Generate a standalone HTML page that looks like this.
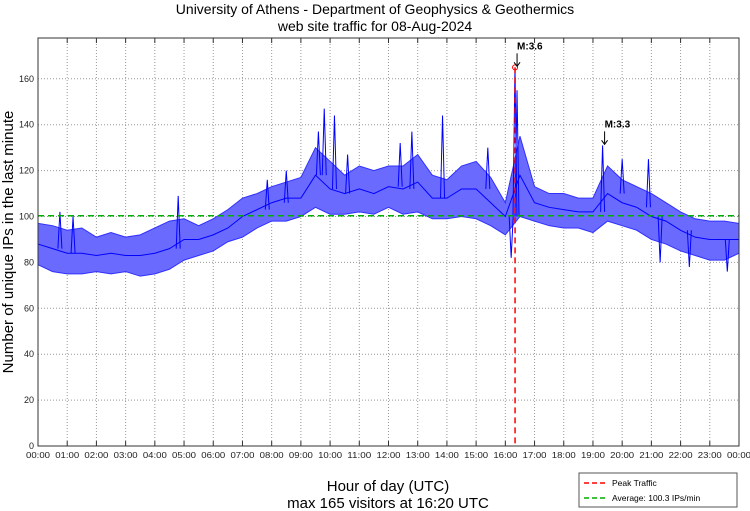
<!DOCTYPE html>
<html><head><meta charset="utf-8"><style>
body{margin:0;background:#fff;}
svg{display:block;font-family:"Liberation Sans",sans-serif;}
</style></head><body>
<svg id="chart" width="750" height="511" viewBox="0 0 750 511"></svg>
<script>
const hours=[0,0.5,1,1.5,2,2.5,3,3.5,4,4.5,5,5.5,6,6.5,7,7.5,8,8.5,9,9.5,10,10.5,11,11.5,12,12.5,13,13.5,14,14.5,15,15.5,16,16.5,17,17.5,18,18.5,19,19.5,20,20.5,21,21.5,22,22.5,23,23.5,24];
const lowVals=[79,76,75,75,76,75,76,74,75,77,81,83,85,89,91,95,98,98,100,104,101,101,102,101,104,101,102,99,99,100,99,96,92,100,98,96,95,95,93,98,96,94,90,88,85,83,81,81,84];
const highVals=[97,96,94,95,91,93,91,92,95,98,99,96,99,103,108,110,113,115,117,130,124,118,122,120,122,122,127,118,116,122,124,117,106,135,113,110,110,108,108,122,116,113,110,106,102,99,98,98,97];
const midVals=[88,86,84,84,83,84,83,83,84,86,90,90,92,95,100,103,106,108,108,118,112,110,112,110,113,112,115,108,108,112,112,106,100,118,106,104,103,102,102,110,106,104,100,98,94,91,90,90,90];
const spikeTimes=[0.75,1.2,4.8,7.85,8.5,9.6,9.8,10.15,10.6,12.4,12.8,13.85,15.4,16.2,16.33,16.4,19.33,20.0,20.9,21.3,22.3,23.6];
const spikeVals=[102,100,109,116,120,137,147,144,127,132,137,144,130,82,165,155,131,125,125,80,78,76];
const yTicks=[0,20,40,60,80,100,120,140,160];
const xTickLabels=["00:00","01:00","02:00","03:00","04:00","05:00","06:00","07:00","08:00","09:00","10:00","11:00","12:00","13:00","14:00","15:00","16:00","17:00","18:00","19:00","20:00","21:00","22:00","23:00","00:00"];
const avgVal=100.3, peakHour=16.333, peakVal=165;
const markers=[{t:16.333,v:165,label:"M:3.6"},{t:19.33,v:131,label:"M:3.3"}];

const L=38,R=739,T=38,B=446;
const X=h=>L+h/24*(R-L);
const Y=v=>B-v*2.295;
const svg=document.getElementById('chart');
const NS='http://www.w3.org/2000/svg';
function mk(tag,attrs,parent){const e=document.createElementNS(NS,tag);for(const k in attrs)e.setAttribute(k,attrs[k]);(parent||svg).appendChild(e);return e;}

yTicks.forEach(v=>{if(v>0){const g=mk('line',{x1:L,x2:R,y1:Y(v),y2:Y(v),stroke:'#999','stroke-dasharray':'1,2','stroke-width':1});

}
const t=mk('text',{x:L-4,y:Y(v)+3,'text-anchor':'end','font-size':9,fill:'#222'});t.textContent=v;

});
xTickLabels.forEach((s,i)=>{if(i>0&&i<24){const g=mk('line',{x1:X(i),x2:X(i),y1:T,y2:B,stroke:'#999','stroke-dasharray':'1,2','stroke-width':1});

}
mk('line',{x1:X(i),x2:X(i),y1:B,y2:B-5,stroke:'#333'});
mk('line',{x1:X(i),x2:X(i),y1:T,y2:T+5,stroke:'#333'});
const t=mk('text',{x:X(i),y:458,'text-anchor':'middle','font-size':8.5,fill:'#222',textLength:24,lengthAdjust:'spacingAndGlyphs'});t.textContent=s;

});

let d='';hours.forEach((h,i)=>{d+=(i?'L':'M')+X(h)+','+Y(highVals[i]);});
for(let i=hours.length-1;i>=0;i--)d+='L'+X(hours[i])+','+Y(lowVals[i]);
const band=mk('path',{d:d+'Z',fill:'#6a6aff',stroke:'#3030ff','stroke-width':1});


let m='';hours.forEach((h,i)=>{m+=(i?'L':'M')+X(h)+','+Y(midVals[i]);});
const mid=mk('path',{d:m,fill:'none',stroke:'#0000ff','stroke-width':1});


spikeTimes.forEach((t,i)=>{let j=0;while(j<hours.length-1&&hours[j+1]<t)j++;
const base=midVals[j];
const s=mk('polyline',{points:`${X(t)-2},${Y(base)} ${X(t)},${Y(spikeVals[i])} ${X(t)+2},${Y(base)}`,fill:'none',stroke:'#0000ff','stroke-width':1});

});

const avg=mk('line',{x1:L,x2:R,y1:Y(avgVal),y2:Y(avgVal),stroke:'#00b000','stroke-width':1.5,'stroke-dasharray':'6,4'});


const pk=mk('line',{x1:X(peakHour),x2:X(peakHour),y1:Y(peakVal),y2:B,stroke:'#ff0000','stroke-width':1.5,'stroke-dasharray':'6,4'});


const pc=mk('circle',{cx:X(peakHour),cy:Y(peakVal),r:2.5,fill:'none',stroke:'#ff0000','stroke-width':1});


markers.forEach(mm=>{const x=X(mm.t),y=Y(mm.v);
mk('line',{x1:x+2,x2:x+2,y1:y-14,y2:y-2,stroke:'#000'});
mk('polyline',{points:`${x-1},${y-5} ${x+2},${y-1} ${x+5},${y-5}`,fill:'none',stroke:'#000'});
const t=mk('text',{x:x+2,y:y-18,'font-size':10,'font-weight':'bold'});t.textContent=mm.label;

});

const fr=mk('rect',{x:L,y:T,width:R-L,height:B-T,fill:'none',stroke:'#333','stroke-width':1});



function txt(x,y,s,size,name,extra){const t=mk('text',Object.assign({x:x,y:y,'text-anchor':'middle','font-size':size,fill:'#000'},extra||{}));t.textContent=s;

return t;}
txt(375,14,'University of Athens - Department of Geophysics & Geothermics',14,'chart-title');
txt(375,31,'web site traffic for 08-Aug-2024',14,'chart-subtitle');
txt(388,491,'Hour of day (UTC)',15,'x-axis-title');
txt(388,508,'max 165 visitors at 16:20 UTC',15,'x-axis-subtitle');
txt(0,0,'Number of unique IPs in the last minute',15,'y-axis-title',{transform:'translate(13,242) rotate(-90)'});

const lg=mk('g',{});


mk('rect',{x:579,y:473,width:158,height:34,fill:'#fff',stroke:'#555'},lg);
mk('line',{x1:584,x2:606,y1:483,y2:483,stroke:'#ff0000','stroke-width':1.5,'stroke-dasharray':'5,3'},lg);
mk('line',{x1:584,x2:606,y1:498,y2:498,stroke:'#00b000','stroke-width':1.5,'stroke-dasharray':'5,3'},lg);
const l1=mk('text',{x:612,y:486,'font-size':8.5},lg);l1.textContent='Peak Traffic';


const l2=mk('text',{x:612,y:501,'font-size':8.5},lg);l2.textContent='Average: 100.3 IPs/min';


</script>
</body></html>
